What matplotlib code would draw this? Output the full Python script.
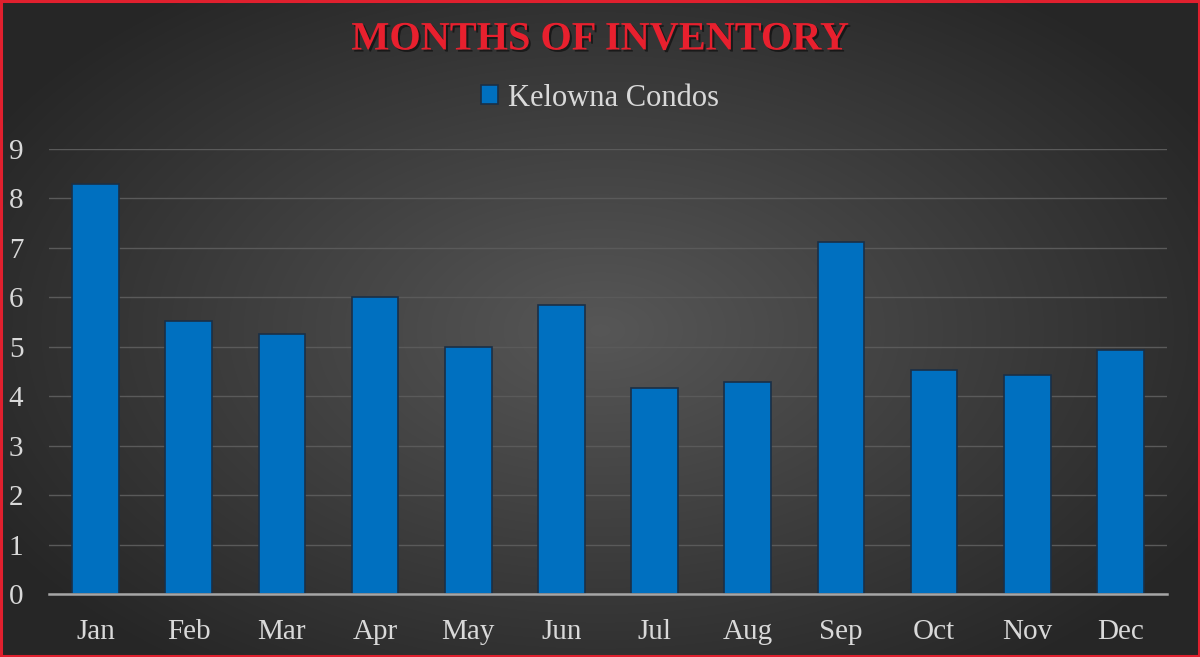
import numpy as np
import matplotlib
matplotlib.use("Agg")
import matplotlib.pyplot as plt
import matplotlib.patheffects as pe
from matplotlib.patches import Rectangle

# data
months = ["Jan", "Feb", "Mar", "Apr", "May", "Jun",
          "Jul", "Aug", "Sep", "Oct", "Nov", "Dec"]
kelowna_condos = [8.3, 5.52, 5.25, 6.0, 5.0, 5.84, 4.17, 4.29, 7.11, 4.53, 4.42, 4.94]
y_ticks = list(range(0, 10))

plt.rcParams['font.family'] = ['Liberation Serif', 'DejaVu Serif']

fig = plt.figure(figsize=(12, 6.57), dpi=100)

# radial gradient background
bg = fig.add_axes([0, 0, 1, 1])
yy, xx = np.mgrid[0:657, 0:1200]
r = np.sqrt(((xx - 600) / 700.0) ** 2 + ((yy - 330) / 420.0) ** 2)
r = np.clip(r, 0, 1)
shade = 0.34 - 0.19 * r
bg.imshow(np.dstack([shade, shade, shade]), aspect='auto', extent=[0, 1, 0, 1])
bg.set_xlim(0, 1)
bg.set_ylim(0, 1)
bg.axis('off')
bg.add_patch(Rectangle((0.001, 0.0015), 0.998, 0.997, fill=False,
                       edgecolor='#e0202e', linewidth=2.2, transform=bg.transAxes))

ax = fig.add_axes([49 / 1200, 1 - 594 / 657, 1118 / 1200, 445 / 657])
ax.set_facecolor('none')
x = np.arange(len(months))
bars = ax.bar(x, kelowna_condos, width=0.5, color='#0070C0',
              edgecolor='#1b2f45', linewidth=1.2, zorder=3, label='Kelowna Condos')

ax.set_xlim(-0.5, len(months) - 0.5)
ax.set_ylim(0, 9)
ax.set_yticks(y_ticks)
ax.set_xticks(x)
ax.set_xticklabels(months)
ax.yaxis.grid(True, color='#5a5a5a', linewidth=1.0, zorder=0)
ax.set_axisbelow(True)
for s in ['top', 'right', 'left']:
    ax.spines[s].set_visible(False)
ax.spines['bottom'].set_color('#a6a6a6')
ax.spines['bottom'].set_linewidth(1.8)
ax.spines['bottom'].set_zorder(4)
ax.tick_params(axis='both', length=0, colors='#d9d9d9', labelsize=21)
ax.tick_params(axis='x', pad=18)
ax.tick_params(axis='y', pad=29)
for lbl in ax.get_yticklabels():
    lbl.set_horizontalalignment('left')

fig.text(0.5, 1 - 40 / 657, "MONTHS OF INVENTORY", ha='center', va='center',
         color='#e8202e', fontsize=29, fontweight='bold',
         path_effects=[pe.withSimplePatchShadow(offset=(1.5, -1.5), shadow_rgbFace='black', alpha=0.5)])

leg = fig.legend(handles=[bars], loc='center', bbox_to_anchor=(0.5, 1 - 98 / 657),
                 frameon=False, fontsize=22, handlelength=0.55, handleheight=0.6,
                 handletextpad=0.35, labelcolor='#d9d9d9')

fig.savefig("out.png", dpi=100)
